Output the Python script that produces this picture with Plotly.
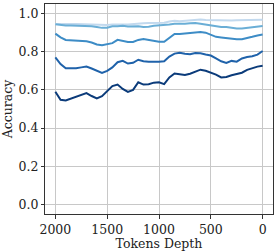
import plotly.graph_objects as go

tokens = list(range(2000, -1, -50))

acc_1 = [0.590, 0.548, 0.545, 0.555, 0.563, 0.575, 0.583, 0.568, 0.556, 0.567,
         0.595, 0.620, 0.628, 0.605, 0.590, 0.600, 0.640, 0.628, 0.630, 0.638,
         0.640, 0.630, 0.665, 0.686, 0.682, 0.678, 0.685, 0.697, 0.706, 0.700,
         0.690, 0.680, 0.665, 0.668, 0.677, 0.682, 0.690, 0.705, 0.714, 0.722, 0.726]
acc_2 = [0.770, 0.735, 0.713, 0.714, 0.713, 0.718, 0.722, 0.712, 0.700, 0.689,
         0.700, 0.718, 0.745, 0.752, 0.738, 0.742, 0.758, 0.750, 0.748, 0.747,
         0.747, 0.750, 0.775, 0.790, 0.795, 0.790, 0.787, 0.793, 0.792, 0.785,
         0.780, 0.765, 0.750, 0.741, 0.752, 0.748, 0.765, 0.772, 0.776, 0.785, 0.804]
acc_3 = [0.895, 0.875, 0.862, 0.860, 0.859, 0.857, 0.855, 0.848, 0.838, 0.834,
         0.838, 0.845, 0.862, 0.858, 0.851, 0.851, 0.862, 0.866, 0.862, 0.855,
         0.852, 0.852, 0.875, 0.893, 0.893, 0.895, 0.899, 0.902, 0.903, 0.900,
         0.890, 0.878, 0.875, 0.872, 0.868, 0.865, 0.866, 0.874, 0.878, 0.885, 0.890]
acc_4 = [0.944, 0.940, 0.938, 0.938, 0.937, 0.937, 0.936, 0.934, 0.930, 0.925,
         0.926, 0.933, 0.934, 0.936, 0.932, 0.933, 0.933, 0.930, 0.931, 0.936,
         0.938, 0.938, 0.943, 0.946, 0.945, 0.947, 0.949, 0.950, 0.947, 0.942,
         0.939, 0.935, 0.930, 0.930, 0.926, 0.922, 0.922, 0.926, 0.930, 0.933, 0.935]
acc_5 = [0.945, 0.944, 0.946, 0.945, 0.945, 0.944, 0.943, 0.940, 0.939, 0.938,
         0.940, 0.942, 0.941, 0.943, 0.943, 0.946, 0.948, 0.949, 0.950, 0.951,
         0.950, 0.952, 0.958, 0.962, 0.960, 0.962, 0.966, 0.968, 0.969, 0.966,
         0.965, 0.965, 0.964, 0.963, 0.964, 0.965, 0.965, 0.966, 0.966, 0.967, 0.968]

series = [acc_5, acc_4, acc_3, acc_2, acc_1]
colors = ["#c2d9ee", "#6aaed6", "#3d8cc6", "#1f62aa", "#0b3b7a"]

x_ticks = [2000, 1500, 1000, 500, 0]
y_ticks = [0.0, 0.2, 0.4, 0.6, 0.8, 1.0]

fig = go.Figure()
for vals, c in zip(series, colors):
    fig.add_trace(go.Scatter(x=tokens, y=vals, mode="lines",
                             line=dict(color=c, width=2), showlegend=False))

font = dict(family="DejaVu Serif", size=12.5, color="#222")
fig.update_layout(
    width=275, height=251,
    margin=dict(l=45, r=2, t=4, b=37),
    paper_bgcolor="white", plot_bgcolor="white",
    font=font,
    xaxis=dict(range=[2100, -100], tickvals=x_ticks, showgrid=True,
               gridcolor="#c8c8c8", gridwidth=1, zeroline=False,
               showline=True, linecolor="#333", linewidth=1, mirror=True,
               ticks="outside", ticklen=4, tickcolor="#333",
               title=dict(text="Tokens Depth", standoff=1, font=font)),
    yaxis=dict(range=[-0.05, 1.05], tickvals=y_ticks, tickformat=".1f",
               showgrid=True, gridcolor="#c8c8c8", gridwidth=1, zeroline=False,
               showline=True, linecolor="#333", linewidth=1, mirror=True,
               ticks="outside", ticklen=3, tickcolor="#333",
               title=dict(text="Accuracy", standoff=3, font=font)),
)
fig.write_html("out.html", config={"displayModeBar": False},
               post_script="document.body.style.margin='0';document.body.style.padding='0';")
